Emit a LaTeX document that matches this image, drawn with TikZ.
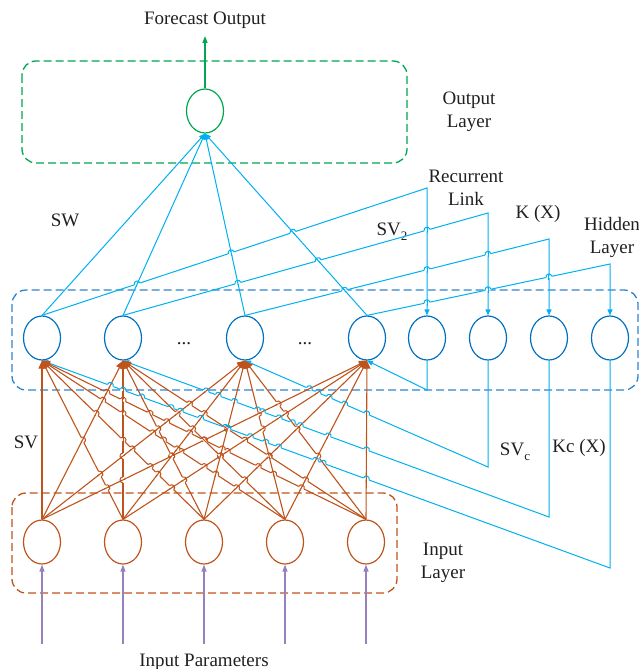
\documentclass[tikz,border=0pt]{standalone}
\usepackage{fontspec}
\setmainfont{Liberation Serif}
\usepackage{tikz}
\usetikzlibrary{arrows.meta,shapes.geometric}
\definecolor{outgreen}{RGB}{0,166,80}
\definecolor{hidblue}{RGB}{0,112,192}
\definecolor{boxblue}{RGB}{46,132,204}
\definecolor{linkblue}{RGB}{0,176,240}
\definecolor{inbrown}{RGB}{190,84,28}
\definecolor{parpurple}{RGB}{150,128,190}
\definecolor{txtgray}{RGB}{35,31,32}
\tikzset{
  neuron/.style={ellipse,draw,line width=1.2pt,inner sep=0pt,minimum width=37pt,minimum height=44pt},
  layerbox/.style={line width=1.3pt,dash pattern=on 8pt off 4pt,rounded corners=14pt},
  lbl/.style={text=txtgray,align=center,inner sep=0pt},
  blueline/.style={linkblue,line width=1pt},
  bluearrow/.style={blueline,-{Triangle[length=6pt,width=5pt]}},
  brownarrow/.style={inbrown,line width=1.1pt,-{Triangle[length=8pt,width=7pt]}}
}
% small bridge where segment #5-#8 passes over segment #1-#4
\def\undercol{linkblue}
\newcommand\linehop[9]{%
  \pgfmathsetmacro\dxa{(#3-#1)/100}%
  \pgfmathsetmacro\dya{(#4-#2)/100}%
  \pgfmathsetmacro\dxb{(#7-#5)/100}%
  \pgfmathsetmacro\dyb{(#8-#6)/100}%
  \pgfmathsetmacro\wx{(#5-#1)/100}%
  \pgfmathsetmacro\wy{(#6-#2)/100}%
  \pgfmathsetmacro\den{\dxa*\dyb-\dya*\dxb}%
  \pgfmathtruncatemacro\ok{abs(\den)>0.01}%
  \ifnum\ok=1
    \pgfmathsetmacro\ta{(\wx*\dyb-\wy*\dxb)/\den}%
    \pgfmathsetmacro\tb{(\wx*\dya-\wy*\dxa)/\den}%
    \pgfmathtruncatemacro\ok{and(and(\ta>0.03,\ta<0.97),and(\tb>0.03,\tb<0.97))}%
    \ifnum\ok=1
      \pgfmathsetmacro\cx{#5+\tb*(#7-#5)}%
      \pgfmathsetmacro\cy{#6+\tb*(#8-#6)}%
      \pgfmathsetmacro\sg{\dxb<0?-1:1}%
      \pgfmathsetmacro\ux{\sg*\dxb/veclen(\dxb,\dyb)}%
      \pgfmathsetmacro\uy{\sg*\dyb/veclen(\dxb,\dyb)}%
      \pgfmathsetmacro\vx{\dxa/veclen(\dxa,\dya)}%
      \pgfmathsetmacro\vy{\dya/veclen(\dxa,\dya)}%
      \draw[white,line width=1.8pt] (\cx-3*\ux,\cy-3*\uy) -- (\cx+3*\ux,\cy+3*\uy);
      \draw[\undercol,line width=1pt] (\cx-3*\vx,\cy-3*\vy) -- (\cx+3*\vx,\cy+3*\vy);
      \draw[#9,line width=1pt] (\cx-3*\ux,\cy-3*\uy) .. controls +(4*\uy,-4*\ux) and +(4*\uy,-4*\ux) .. (\cx+3*\ux,\cy+3*\uy);
    \fi
  \fi}
\begin{document}
\begin{tikzpicture}[x=1pt,y=-1pt,font=\fontsize{19}{23}\selectfont]
\useasboundingbox (0,0) rectangle (639,669);

\draw[layerbox,outgreen] (22,61) rectangle (407,163);
\draw[layerbox,boxblue] (12,290) rectangle (638,390);
\draw[layerbox,inbrown] (12,493) rectangle (397,593);

\node[neuron,draw=outgreen] (out) at (205,111) {};
\foreach \x [count=\n] in {42,123,245,367,427,488,549,610}
  \node[neuron,draw=hidblue] (h\n) at (\x,338) {};
\foreach \x [count=\n] in {42,123,204,285,366}
{
  \node[neuron,draw=inbrown] (i\n) at (\x,542) {};
  \coordinate (p\n) at (\x,644);
}
\coordinate (fotip) at (205,36);

\node[lbl] (fo) at (205,20) {Forecast Output};
\node[lbl] (outlay) at (469,112) {Output\\Layer};
\node[lbl] (rec) at (466,188) {Recurrent\\Link};
\node[lbl] (kx) at (538,214) {K (X)};
\node[lbl] (hidlay) at (612,237) {Hidden\\Layer};
\node[lbl] (sw) at (65,220) {SW};
\node[lbl] (sv2) at (392,232) {SV\raisebox{-5pt}{\fontsize{13}{13}\selectfont 2}};
\node[lbl] (sv) at (26,442) {SV};
\node[lbl] (svc) at (515,452) {SV\raisebox{-5pt}{\fontsize{13}{13}\selectfont c}};
\node[lbl] (kcx) at (579,448) {Kc (X)};
\node[lbl] (inlay) at (443,563) {Input\\Layer};
\node[lbl] (par) at (204,662) {Input Parameters};
\node[lbl] (dots1) at (184,344) {...};
\node[lbl] (dots2) at (305,344) {...};

% hidden -> output
\foreach \h in {1,...,4}
  \draw[bluearrow] (h\h.north) -- (out.south);

% recurrent links into the context units
\foreach \h/\x/\y in {1/427/188,2/488/213,3/549/239,4/610/264}
{
  \pgfmathtruncatemacro\c{\h+4}
  \coordinate (r\h) at (\x,\y);
  \draw[bluearrow] (h\h.north) -- (r\h) -- (h\c.north);
}

% context units back to the hidden units
\foreach \c/\h/\x/\y in {5/4/427/390,6/3/488/467,7/2/549/517,8/1/610/568}
{
  \coordinate (b\c) at (\x,\y);
  \draw[bluearrow] (h\c.south) -- (b\c) -- (h\h.south);
}

% input -> hidden
\foreach \i in {1,...,5} \foreach \h in {1,...,4}
  \draw[brownarrow] (i\i.north) -- (h\h.south);

% bridges
\def\undercol{inbrown}
\foreach \xa [count=\i] in {42,123,204,285,366}
{\foreach \xb [count=\h] in {42,123,245,367}
{\foreach \xc [count=\j] in {42,123,204,285,366}
{\foreach \xd [count=\g] in {42,123,245,367}
{
  \pgfmathtruncatemacro\later{4*\j+\g>4*\i+\h}
  \ifnum\later=1
    \linehop{\xa}{519.5}{\xb}{360.5}{\xc}{519.5}{\xd}{360.5}{inbrown}
  \fi
}}}}
\foreach \xc/\yc/\xd in {427/390/367,488/467/245,549/517/123,610/568/42}
{\foreach \xa in {42,123,204,285,366}
{\foreach \xb in {42,123,245,367}
{
  \linehop{\xa}{519.5}{\xb}{360.5}{\xc}{\yc}{\xd}{360.5}{linkblue}
}}}
\def\undercol{linkblue}
\foreach \xa/\xr/\yr in {42/427/188,123/488/213,245/549/239,367/610/264}
{
  \foreach \xb in {42,123,245,367}
  {\linehop{\xb}{315.5}{205}{133.5}{\xa}{315.5}{\xr}{\yr}{linkblue}}
  \foreach \xv/\yv in {427/188,488/213,549/239,610/264}
  {\linehop{\xv}{\yv}{\xv}{315.5}{\xa}{315.5}{\xr}{\yr}{linkblue}}
}

\foreach \n in {1,...,5}
  \draw[parpurple,line width=1.4pt,-{Triangle[length=7pt,width=5pt]}] (p\n) -- (i\n.south);
\draw[outgreen,line width=1.3pt,-{Triangle[length=7pt,width=5pt]}] (out.north) -- (fotip);
\end{tikzpicture}
\end{document}
